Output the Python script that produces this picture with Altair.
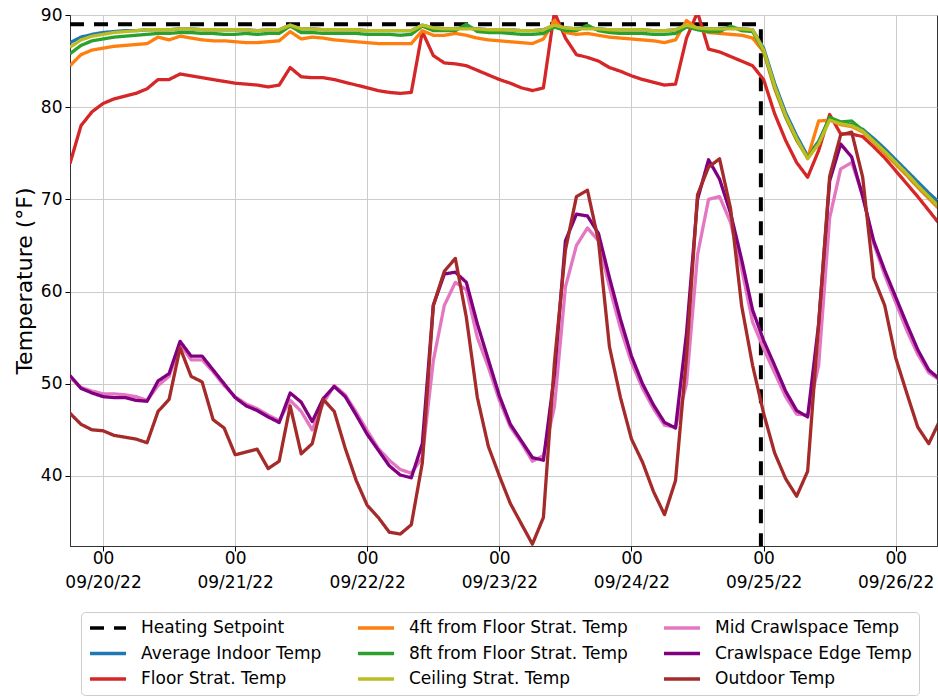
import altair as alt
import pandas as pd

# Two-hourly readings from 2022-09-19 18:00 onwards (80 samples)
start = "2022-09-19 18:00"
n_samples = 80

avg_indoor = [
    87.0, 87.6, 87.9, 88.1, 88.2, 88.3, 88.3, 88.4, 88.4, 88.4,
    88.5, 88.5, 88.4, 88.4, 88.4, 88.4, 88.4, 88.3, 88.4, 88.4,
    88.9, 88.5, 88.5, 88.4, 88.4, 88.4, 88.4, 88.3, 88.3, 88.3,
    88.3, 88.3, 88.9, 88.6, 88.5, 88.5, 88.6, 88.5, 88.4, 88.4,
    88.4, 88.3, 88.3, 88.4, 88.9, 88.6, 88.5, 88.6, 88.5, 88.4,
    88.4, 88.4, 88.4, 88.3, 88.3, 88.4, 88.9, 88.6, 88.5, 88.5,
    88.6, 88.5, 88.4, 86.4, 82.6, 79.4, 76.9, 74.7, 76.3, 78.8,
    78.3, 78.1, 77.6, 76.6, 75.5, 74.3, 73.1, 71.9, 70.7, 69.6,
]

floor_strat = [
    73.9, 78.0, 79.5, 80.4, 80.9, 81.2, 81.5, 82.0, 83.0, 83.0,
    83.6, 83.4, 83.2, 83.0, 82.8, 82.6, 82.5, 82.4, 82.2, 82.4,
    84.3, 83.3, 83.2, 83.2, 83.0, 82.7, 82.4, 82.1, 81.8, 81.6,
    81.5, 81.6, 88.2, 85.6, 84.8, 84.7, 84.5, 84.0, 83.5, 83.0,
    82.6, 82.1, 81.8, 82.1, 90.3, 87.5, 85.7, 85.4, 85.0, 84.3,
    83.9, 83.4, 83.0, 82.7, 82.4, 82.5, 87.5, 90.3, 86.3, 86.0,
    85.5, 85.0, 84.5, 83.0, 79.3, 76.4, 74.0, 72.4, 75.3, 79.2,
    77.1, 77.1, 76.8, 75.7, 74.5, 73.1, 71.7, 70.3, 68.8, 67.3,
]

strat_4ft = [
    84.5, 85.7, 86.2, 86.4, 86.6, 86.7, 86.8, 86.9, 87.6, 87.3,
    87.7, 87.5, 87.3, 87.2, 87.2, 87.1, 87.0, 87.0, 87.1, 87.2,
    88.2, 87.4, 87.6, 87.5, 87.3, 87.2, 87.1, 87.0, 86.9, 86.9,
    86.9, 86.9, 88.3, 87.8, 87.8, 88.0, 87.8, 87.5, 87.3, 87.2,
    87.1, 87.0, 86.9, 87.4, 89.4, 88.1, 87.9, 88.0, 87.8, 87.6,
    87.5, 87.4, 87.3, 87.2, 87.0, 87.3, 89.4, 88.5, 88.1, 88.0,
    87.9, 87.8, 87.5, 86.0, 82.0, 78.9, 76.4, 74.5, 78.5, 78.6,
    78.1, 77.9, 77.3, 76.2, 75.0, 73.8, 72.6, 71.3, 70.1, 68.9,
]

strat_8ft = [
    85.8, 86.7, 87.2, 87.4, 87.6, 87.7, 87.8, 87.9, 88.0, 88.0,
    88.1, 88.1, 88.0, 88.0, 87.9, 87.9, 88.0, 87.9, 88.0, 88.0,
    88.8, 88.1, 88.1, 88.0, 88.0, 88.0, 88.0, 87.9, 87.9, 87.9,
    87.8, 87.9, 88.8, 88.3, 88.3, 88.3, 89.0, 88.2, 88.1, 88.1,
    88.0, 87.9, 87.9, 88.0, 88.7, 88.3, 88.3, 88.9, 88.3, 88.1,
    88.0, 88.0, 88.0, 87.9, 87.9, 88.0, 88.7, 88.4, 88.2, 88.2,
    88.8, 88.3, 88.2, 86.1, 82.2, 79.0, 76.5, 74.5, 76.2, 78.9,
    78.4, 78.5, 77.5, 76.4, 75.2, 74.0, 72.8, 71.5, 70.3, 69.1,
]

ceiling_strat = [
    86.5, 87.3, 87.7, 87.9, 88.1, 88.2, 88.3, 88.4, 88.4, 88.4,
    88.5, 88.5, 88.4, 88.4, 88.4, 88.4, 88.4, 88.3, 88.4, 88.4,
    88.9, 88.5, 88.5, 88.4, 88.4, 88.4, 88.4, 88.3, 88.3, 88.3,
    88.3, 88.3, 88.9, 88.6, 88.5, 88.5, 88.5, 88.5, 88.4, 88.4,
    88.4, 88.3, 88.3, 88.4, 88.9, 88.6, 88.5, 88.5, 88.5, 88.4,
    88.4, 88.4, 88.4, 88.3, 88.3, 88.4, 88.9, 88.6, 88.5, 88.5,
    88.5, 88.5, 88.4, 86.2, 82.3, 79.1, 76.6, 74.4, 76.0, 78.6,
    78.2, 78.0, 77.4, 76.3, 75.2, 74.0, 72.8, 71.5, 70.3, 69.1,
]

mid_crawlspace = [
    50.7, 49.6, 49.2, 48.9, 48.9, 48.8, 48.6, 48.2, 49.8, 50.8,
    54.3, 52.6, 52.6, 51.3, 49.8, 48.6, 47.8, 47.3, 46.6, 46.0,
    48.2, 47.0, 45.0, 47.9, 49.8, 48.8, 46.9, 44.9, 43.0, 41.7,
    40.7, 40.3, 42.0, 52.5, 58.5, 61.0, 60.2, 55.0, 51.8, 48.2,
    45.3, 43.6, 41.6, 42.2, 47.5, 60.5, 65.0, 66.9, 65.5, 60.5,
    56.0, 52.3, 49.5, 47.3, 45.5, 45.3, 50.0, 64.0, 70.0, 70.3,
    67.5, 62.5, 56.7, 53.8, 51.2, 48.6, 46.7, 46.6, 52.0, 68.0,
    73.3, 74.0, 70.5, 65.2, 61.8, 58.8, 55.8, 53.2, 51.2, 50.4,
]

crawlspace_edge = [
    50.9, 49.5, 49.0, 48.6, 48.5, 48.5, 48.2, 48.1, 50.3, 51.1,
    54.6, 53.0, 53.0, 51.5, 50.0, 48.5, 47.6, 47.1, 46.4, 45.8,
    49.0, 48.0, 45.9, 48.4, 49.7, 48.6, 46.6, 44.5, 42.8, 41.1,
    40.1, 39.8, 43.5, 58.5, 61.9, 62.1, 61.0, 56.5, 52.6, 48.7,
    45.6, 43.8, 42.0, 41.7, 51.0, 65.5, 68.4, 68.2, 66.3, 61.5,
    57.0, 53.0, 50.0, 47.7, 45.8, 45.2, 55.5, 70.0, 74.3, 72.2,
    68.5, 63.5, 58.0, 54.7, 52.0, 49.2, 47.1, 46.4, 56.5, 72.0,
    76.0, 74.6, 70.3, 65.5, 62.3, 59.4, 56.5, 53.7, 51.5, 50.5,
]

outdoor = [
    46.8, 45.6, 45.0, 44.9, 44.4, 44.2, 44.0, 43.6, 47.0, 48.3,
    53.9, 50.8, 50.2, 46.1, 45.2, 42.3, 42.6, 42.9, 40.8, 41.6,
    47.6, 42.4, 43.5, 48.3, 47.0, 43.0, 39.5, 36.8, 35.5, 33.9,
    33.7, 34.7, 41.4, 58.5, 62.2, 63.6, 57.2, 48.5, 43.2, 40.0,
    37.0, 34.8, 32.6, 35.5, 52.3, 64.5, 70.3, 71.0, 65.5, 54.0,
    48.5, 44.0, 41.5, 38.3, 35.8, 39.5, 53.0, 70.5, 73.5, 74.4,
    69.0, 58.5, 52.0, 46.8, 42.5, 39.7, 37.8, 40.5, 56.5, 72.5,
    77.0, 77.3, 72.4, 61.5, 58.5, 52.8, 49.0, 45.3, 43.5, 46.0,
]

# Heating setpoint: 89 °F until the heating is switched off late on 09/24
setpoint_times = ["2022-09-19 18:00", "2022-09-24 23:30", "2022-09-24 23:31", "2022-09-26 08:00"]
setpoint_values = [89.0, 89.0, 0.0, 0.0]

# Series in drawing order (bottom to top) and legend order, with line colours
series_colors = {
    "Heating Setpoint": "#000000",
    "Average Indoor Temp": "#1f77b4",
    "Floor Strat. Temp": "#d62728",
    "4ft from Floor Strat. Temp": "#ff7f0e",
    "8ft from Floor Strat. Temp": "#2ca02c",
    "Ceiling Strat. Temp": "#bcbd22",
    "Mid Crawlspace Temp": "#e377c2",
    "Crawlspace Edge Temp": "#800080",
    "Outdoor Temp": "#a52a2a",
}
legend_order = list(series_colors)

times = pd.date_range(start, periods=n_samples, freq="2h").strftime("%Y-%m-%dT%H:%M:%S")
measured = {
    "Average Indoor Temp": avg_indoor,
    "Floor Strat. Temp": floor_strat,
    "4ft from Floor Strat. Temp": strat_4ft,
    "8ft from Floor Strat. Temp": strat_8ft,
    "Ceiling Strat. Temp": ceiling_strat,
    "Mid Crawlspace Temp": mid_crawlspace,
    "Crawlspace Edge Temp": crawlspace_edge,
    "Outdoor Temp": outdoor,
}

frames = [
    pd.DataFrame({"time": times, "temp": vals, "series": name})
    for name, vals in measured.items()
]
frames.append(pd.DataFrame({
    "time": pd.to_datetime(setpoint_times).strftime("%Y-%m-%dT%H:%M:%S"),
    "temp": setpoint_values,
    "series": "Heating Setpoint",
}))
data = pd.concat(frames, ignore_index=True)

color_scale = alt.Scale(domain=legend_order, range=[series_colors[s] for s in legend_order])
dash_scale = alt.Scale(
    domain=legend_order,
    range=[[14, 10] if s == "Heating Setpoint" else [1, 0] for s in legend_order],
)

day_ticks = [alt.DateTime(year=2022, month=9, date=d) for d in range(20, 27)]

x_enc = alt.X(
    "time:T",
    scale=alt.Scale(domain=[
        alt.DateTime(year=2022, month=9, date=19, hours=18),
        alt.DateTime(year=2022, month=9, date=26, hours=7, minutes=30),
    ]),
    axis=alt.Axis(
        values=day_ticks,
        labelExpr="[timeFormat(datum.value, '%H'), timeFormat(datum.value, '%m/%d/%y')]",
        title=None,
        labelAngle=0,
        labelAlign="center",
        labelBaseline="top",
        labelLineHeight=24,
        labelPadding=-1,
        tickSize=5,
    ),
)
y_enc = alt.Y(
    "temp:Q",
    scale=alt.Scale(domain=[32.4, 90], nice=False, zero=False),
    axis=alt.Axis(
        values=[40, 50, 60, 70, 80, 90],
        title="Temperature (°F)",
        titleFontSize=22,
        titleFontWeight="normal",
        titlePadding=4,
        tickSize=5,
        labelPadding=3,
    ),
)
color_enc = alt.Color(
    "series:N",
    scale=color_scale,
    legend=alt.Legend(
        title=None,
        orient="none",
        legendX=11,
        legendY=597,
        columns=3,
        symbolType="stroke",
        symbolSize=1296,
        symbolStrokeWidth=3.5,
        clipHeight=18,
        rowPadding=7.5,
        columnPadding=34,
        labelFontSize=17,
        labelFont="DejaVu Sans",
        labelOffset=13,
        labelLimit=400,
        padding=7,
        strokeColor="#cccccc",
        fillColor="white",
        cornerRadius=4,
    ),
)
dash_enc = alt.StrokeDash("series:N", scale=dash_scale)

layers = []
for name in series_colors:
    width = 4 if name == "Heating Setpoint" else 3.3
    layers.append(
        alt.Chart(data)
        .transform_filter(alt.datum.series == name)
        .mark_line(clip=True, strokeWidth=width, strokeJoin="round")
        .encode(x=x_enc, y=y_enc, color=color_enc, strokeDash=dash_enc)
    )

chart = (
    alt.layer(*layers)
    .resolve_scale(color="shared", strokeDash="shared")
    .properties(
        width=867,
        height=531,
        padding={"left": 70, "top": 15, "right": 1, "bottom": 150},
        autosize=alt.AutoSizeParams(type="none"),
        background="white",
    )
    .configure_view(stroke="#333333", strokeWidth=1)
    .configure_axis(
        labelFont="DejaVu Sans",
        titleFont="DejaVu Sans",
        labelFontSize=17,
        labelColor="#000000",
        titleColor="#000000",
        tickColor="#000000",
        domainColor="#333333",
        gridColor="#cccccc",
        gridWidth=1,
    )
)

chart.save("out.html", embed_options={"renderer": "svg", "actions": False})
